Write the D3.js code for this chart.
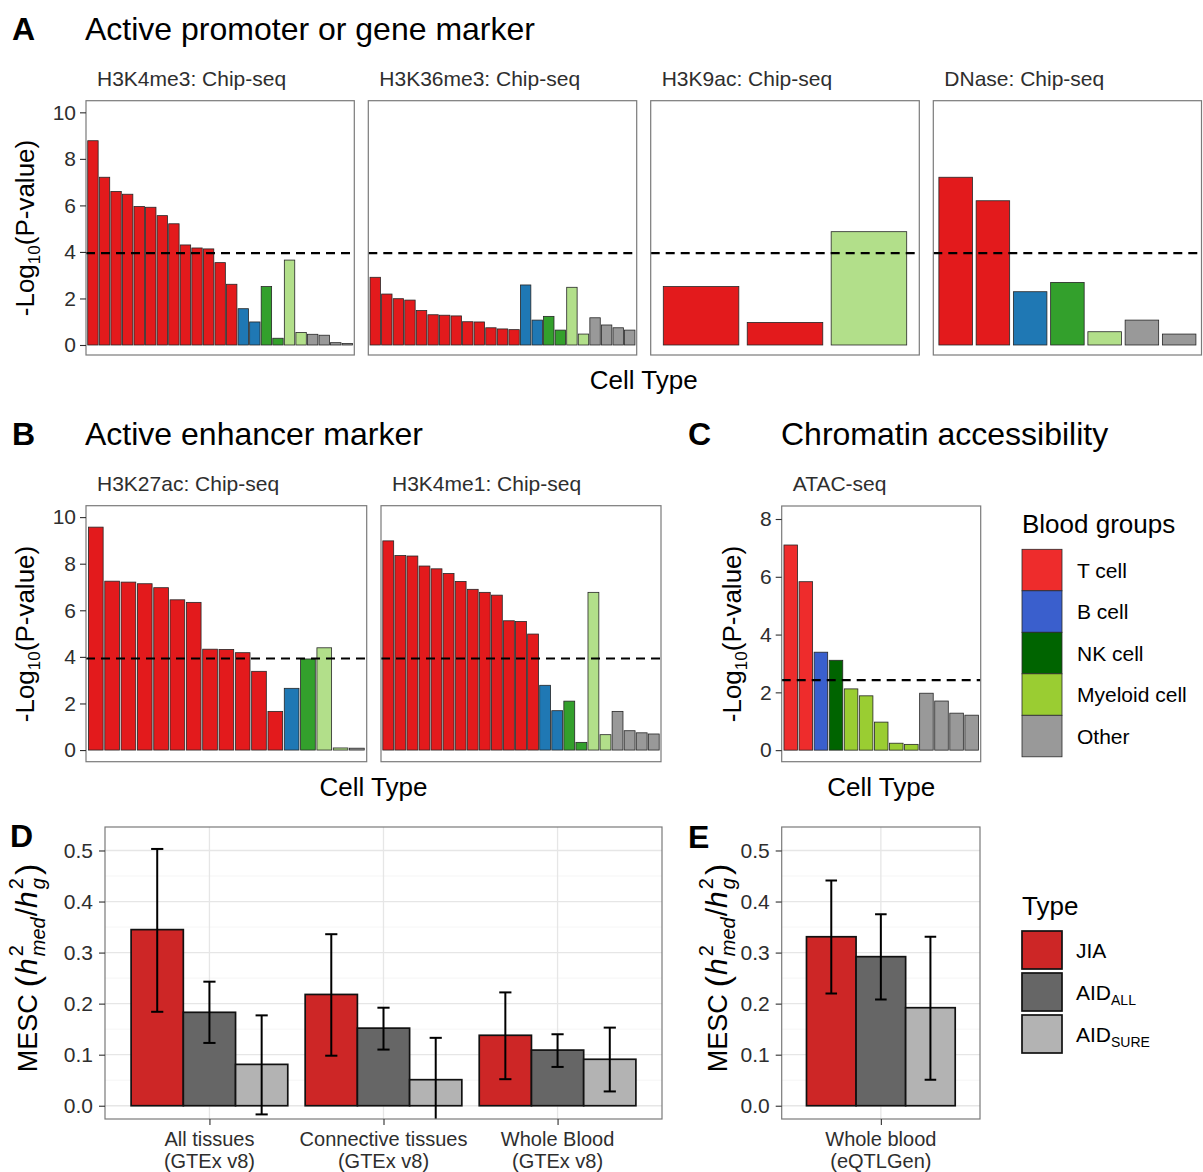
<!DOCTYPE html>
<html><head><meta charset="utf-8">
<script src="https://cdn.jsdelivr.net/npm/d3@7"></script>
<style>
body{margin:0;background:#fff}
svg{display:block}
text{font-family:"Liberation Sans", Arial, Helvetica, sans-serif}
</style>
</head><body>
<svg id="fig" width="1203" height="1172"></svg>
<script>
// ---------------- DATA ----------------
// Blood groups: T = T cell, B = B cell, NK = NK cell, M = Myeloid cell, O = Other
const bloodGroups = ["T", "B", "NK", "M", "O"];
const bloodGroupLabels = ["T cell", "B cell", "NK cell", "Myeloid cell", "Other"];

// Panel A
const h3k4me3Values = [8.78, 7.21, 6.60, 6.48, 5.95, 5.92, 5.56, 5.21, 4.30, 4.17, 4.13, 3.54, 2.61, 1.56, 0.99, 2.51, 0.29, 3.65, 0.54, 0.46, 0.42, 0.10, 0.06];
const h3k4me3Groups = ["T","T","T","T","T","T","T","T","T","T","T","T","T","B","B","NK","NK","M","M","O","O","O","O"];
const h3k36me3Values = [2.91, 2.19, 1.99, 1.93, 1.48, 1.30, 1.28, 1.25, 1.00, 0.99, 0.74, 0.69, 0.66, 2.58, 1.07, 1.23, 0.64, 2.48, 0.47, 1.17, 0.86, 0.74, 0.64];
const h3k36me3Groups = ["T","T","T","T","T","T","T","T","T","T","T","T","T","B","B","NK","NK","M","M","O","O","O","O"];
const h3k9acValues = [2.51, 0.97, 4.87];
const h3k9acGroups = ["T","T","M"];
const dnaseValues = [7.21, 6.20, 2.29, 2.69, 0.57, 1.07, 0.47];
const dnaseGroups = ["T","T","B","NK","M","O","O"];

// Panel B
const h3k27acValues = [9.57, 7.25, 7.21, 7.14, 6.97, 6.45, 6.34, 4.33, 4.32, 4.18, 3.38, 1.66, 2.65, 3.91, 4.39, 0.09, 0.08];
const h3k27acGroups = ["T","T","T","T","T","T","T","T","T","T","T","T","B","NK","M","M","O"];
const h3k4me1Values = [8.98, 8.35, 8.33, 7.90, 7.78, 7.58, 7.24, 6.90, 6.77, 6.65, 5.55, 5.52, 4.98, 2.78, 1.69, 2.10, 0.33, 6.77, 0.66, 1.66, 0.83, 0.74, 0.69];
const h3k4me1Groups = ["T","T","T","T","T","T","T","T","T","T","T","T","T","B","B","NK","NK","M","M","O","O","O","O"];

// Panel C
const atacValues = [7.10, 5.83, 3.39, 3.11, 2.12, 1.88, 0.97, 0.24, 0.20, 1.97, 1.70, 1.28, 1.21];
const atacGroups = ["T","T","B","NK","M","M","M","M","M","O","O","O","O"];

// significance thresholds (-log10 P)
const thresholdA = 3.95;
const thresholdB = 3.93;
const thresholdC = 2.42;

const tickValuesAB = [0, 2, 4, 6, 8, 10];
const tickValuesC = [0, 2, 4, 6, 8];

// Panels D / E
const mescCategoriesD = [["All tissues", "(GTEx v8)"], ["Connective tissues", "(GTEx v8)"], ["Whole Blood", "(GTEx v8)"]];
const mescCategoriesE = [["Whole blood", "(eQTLGen)"]];
const mescTypes = ["JIA", "AID_ALL", "AID_SURE"];
const jiaD = [0.345, 0.218, 0.138];
const jiaLowD = [0.184, 0.098, 0.052];
const jiaHighD = [0.503, 0.336, 0.222];
const aidAllD = [0.183, 0.152, 0.109];
const aidAllLowD = [0.123, 0.110, 0.076];
const aidAllHighD = [0.243, 0.192, 0.140];
const aidSureD = [0.081, 0.051, 0.091];
const aidSureLowD = [-0.017, -0.040, 0.028];
const aidSureHighD = [0.177, 0.133, 0.153];
const jiaE = [0.331];
const jiaLowE = [0.220];
const jiaHighE = [0.441];
const aidAllE = [0.292];
const aidAllLowE = [0.208];
const aidAllHighE = [0.375];
const aidSureE = [0.192];
const aidSureLowE = [0.051];
const aidSureHighE = [0.331];
const mescTicks = [0.0, 0.1, 0.2, 0.3, 0.4, 0.5];
const mescMinorTicks = [0.05, 0.15, 0.25, 0.35, 0.45];

// ---------------- STYLE ----------------
const paletteAB = {T: "#E31A1C", B: "#1F78B4", NK: "#33A02C", M: "#B2DF8A", O: "#999999"};
const paletteC = {T: "#EE2C2C", B: "#3A5FCD", NK: "#006400", M: "#9ACD32", O: "#999999"};
const typeColors = {JIA: "#CD2626", AID_ALL: "#666666", AID_SURE: "#B3B3B3"};
const TXT = "#2e2e2e";

const svg = d3.select("#fig");

function txt(x, y, s, size, opts = {}) {
  const t = svg.append("text").attr("x", x).attr("y", y).attr("font-size", size)
    .attr("fill", opts.fill || "#000").text(s);
  if (opts.anchor) t.attr("text-anchor", opts.anchor);
  if (opts.bold) t.attr("font-weight", "bold");
  return t;
}

// y-label "-Log10(P-value)"
function logLabel(xBase, yCenter) {
  const t = svg.append("text").attr("transform", `translate(${xBase},${yCenter}) rotate(-90)`)
    .attr("text-anchor", "middle").attr("font-size", 26).attr("fill", "#000");
  t.append("tspan").text("-Log");
  t.append("tspan").attr("font-size", 17).attr("dy", 6).text("10");
  t.append("tspan").attr("dy", -6).text("(P-value)");
}

// faceted bar panel
function barFacet(cfg) {
  const {left, right, top, bottom, ydom, values, groups, palette, thresh, strip, yTicks} = cfg;
  const n = values.length;
  const x = d3.scaleLinear().domain([0.4, n + 0.6]).range([left, right]);
  const y = d3.scaleLinear().domain(ydom).range([bottom, top]);
  const g = svg.append("g");
  g.selectAll("rect.bar").data(values).join("rect").attr("class", "bar")
    .attr("x", (d, i) => x(i + 1 - 0.45))
    .attr("width", (d, i) => x(i + 1 + 0.45) - x(i + 1 - 0.45))
    .attr("y", d => y(d)).attr("height", d => y(0) - y(d))
    .attr("fill", (d, i) => palette[groups[i]])
    .attr("stroke", "#262626").attr("stroke-width", 0.8);
  g.append("line").attr("x1", left).attr("x2", right)
    .attr("y1", y(thresh)).attr("y2", y(thresh))
    .attr("stroke", "#000").attr("stroke-width", 2.2).attr("stroke-dasharray", "9,6");
  g.append("rect").attr("x", left).attr("y", top).attr("width", right - left).attr("height", bottom - top)
    .attr("fill", "none").attr("stroke", "#7a7a7a").attr("stroke-width", 1.2);
  txt(left + 11, top - 15, strip, 21, {fill: TXT});
  if (yTicks) {
    const ag = g.append("g").attr("transform", `translate(${left},0)`)
      .call(d3.axisLeft(y).tickValues(yTicks).tickSize(6).tickPadding(4).tickFormat(d3.format("d")));
    ag.select(".domain").remove();
    ag.selectAll("text").attr("font-size", 21).attr("fill", TXT).attr("font-family", null);
    ag.selectAll("line").attr("stroke", TXT).attr("stroke-width", 1.1);
  }
}

// ---------------- PANEL A ----------------
txt(12, 40, "A", 32, {bold: true});
txt(85, 40, "Active promoter or gene marker", 32);
const yA = [-0.43, 10.5];
barFacet({left: 86, right: 354.3, top: 100.7, bottom: 355, ydom: yA, values: h3k4me3Values, groups: h3k4me3Groups, palette: paletteAB, thresh: thresholdA, strip: "H3K4me3: Chip-seq", yTicks: tickValuesAB});
barFacet({left: 368.3, right: 636.7, top: 100.7, bottom: 355, ydom: yA, values: h3k36me3Values, groups: h3k36me3Groups, palette: paletteAB, thresh: thresholdA, strip: "H3K36me3: Chip-seq"});
barFacet({left: 650.7, right: 919.3, top: 100.7, bottom: 355, ydom: yA, values: h3k9acValues, groups: h3k9acGroups, palette: paletteAB, thresh: thresholdA, strip: "H3K9ac: Chip-seq"});
barFacet({left: 933.3, right: 1201.5, top: 100.7, bottom: 355, ydom: yA, values: dnaseValues, groups: dnaseGroups, palette: paletteAB, thresh: thresholdA, strip: "DNase: Chip-seq"});
logLabel(34, 228);
txt(643.7, 389, "Cell Type", 26, {anchor: "middle"});

// ---------------- PANEL B ----------------
txt(12, 445, "B", 32, {bold: true});
txt(85, 445, "Active enhancer marker", 32);
const yB = [-0.5, 10.49];
barFacet({left: 86, right: 366.7, top: 505.7, bottom: 761.7, ydom: yB, values: h3k27acValues, groups: h3k27acGroups, palette: paletteAB, thresh: thresholdB, strip: "H3K27ac: Chip-seq", yTicks: tickValuesAB});
barFacet({left: 381, right: 661, top: 505.7, bottom: 761.7, ydom: yB, values: h3k4me1Values, groups: h3k4me1Groups, palette: paletteAB, thresh: thresholdB, strip: "H3K4me1: Chip-seq"});
logLabel(34, 634);
txt(373.5, 796, "Cell Type", 26, {anchor: "middle"});

// ---------------- PANEL C ----------------
txt(688, 445, "C", 32, {bold: true});
txt(781, 445, "Chromatin accessibility", 32);
barFacet({left: 781.7, right: 980.7, top: 506, bottom: 761.7, ydom: [-0.4, 8.45], values: atacValues, groups: atacGroups, palette: paletteC, thresh: thresholdC, strip: "ATAC-seq", yTicks: tickValuesC});
logLabel(741, 634);
txt(881.2, 796, "Cell Type", 26, {anchor: "middle"});

// Blood groups legend
txt(1022, 533, "Blood groups", 26);
const keyH = 41.5;
const lg = svg.append("g");
lg.selectAll("rect").data(bloodGroups).join("rect")
  .attr("x", 1022).attr("y", (d, i) => 549.3 + i * keyH)
  .attr("width", 40).attr("height", keyH)
  .attr("fill", d => paletteC[d]).attr("stroke", "#2a2a2a").attr("stroke-width", 0.8);
lg.selectAll("text").data(bloodGroupLabels).join("text")
  .attr("x", 1077).attr("y", (d, i) => 549.3 + i * keyH + keyH / 2 + 7.5)
  .attr("font-size", 21).attr("fill", "#000").text(d => d);

// ---------------- PANELS D / E ----------------
function mescLabel(xBase, yCenter) {
  const t = svg.append("text").attr("transform", `translate(${xBase},${yCenter}) rotate(-90)`)
    .attr("text-anchor", "middle").attr("font-size", 27).attr("fill", "#000");
  t.append("tspan").text("MESC");
  t.append("tspan").attr("font-size", 34).attr("dy", 2).attr("dx", 7).text("(");
  t.append("tspan").attr("font-size", 30).attr("font-style", "italic").attr("dy", -2).attr("dx", 1).text("h");
  t.append("tspan").attr("font-size", 20).attr("dy", -14).attr("dx", 2).text("2");
  t.append("tspan").attr("font-size", 20).attr("font-style", "italic").attr("dx", -11).attr("dy", 22).text("med");
  t.append("tspan").attr("font-size", 30).attr("dy", -8).attr("dx", 1).text("/");
  t.append("tspan").attr("font-size", 30).attr("font-style", "italic").text("h");
  t.append("tspan").attr("font-size", 20).attr("dy", -14).attr("dx", 2).text("2");
  t.append("tspan").attr("font-size", 20).attr("font-style", "italic").attr("dx", -11).attr("dy", 22).text("g");
  t.append("tspan").attr("font-size", 34).attr("dy", -6).attr("dx", 3).text(")");
}

function mescPanel(cfg) {
  const {id, left, right, top, bottom, cats, series} = cfg;
  const n = cats.length;
  const x = d3.scaleLinear().domain([0.4, n + 0.6]).range([left, right]);
  const y = d3.scaleLinear().domain([-0.026, 0.546]).range([bottom, top]);
  const g = svg.append("g");
  const clipId = "clip" + id;
  svg.append("defs").append("clipPath").attr("id", clipId).append("rect")
    .attr("x", left).attr("y", top).attr("width", right - left).attr("height", bottom - top);
  const inner = g.append("g").attr("clip-path", `url(#${clipId})`);
  // grid
  inner.selectAll("line.minor").data(mescMinorTicks).join("line").attr("class", "minor")
    .attr("x1", left).attr("x2", right).attr("y1", d => y(d)).attr("y2", d => y(d))
    .attr("stroke", "#F2F2F2").attr("stroke-width", 0.8);
  inner.selectAll("line.major").data(mescTicks).join("line").attr("class", "major")
    .attr("x1", left).attr("x2", right).attr("y1", d => y(d)).attr("y2", d => y(d))
    .attr("stroke", "#E6E6E6").attr("stroke-width", 1.3);
  inner.selectAll("line.vmajor").data(cats).join("line").attr("class", "vmajor")
    .attr("x1", (d, i) => x(i + 1)).attr("x2", (d, i) => x(i + 1)).attr("y1", top).attr("y2", bottom)
    .attr("stroke", "#E6E6E6").attr("stroke-width", 1.3);
  const w = 0.9 / series.length;
  series.forEach((s, k) => {
    const x0 = i => x(i + 1 - 0.45 + k * w);
    const x1 = i => x(i + 1 - 0.45 + (k + 1) * w);
    inner.selectAll("rect.b" + k).data(s.values).join("rect").attr("class", "b" + k)
      .attr("x", (d, i) => x0(i)).attr("width", (d, i) => x1(i) - x0(i))
      .attr("y", d => y(d)).attr("height", d => y(0) - y(d))
      .attr("fill", typeColors[s.type]).attr("stroke", "#111").attr("stroke-width", 1.7);
  });
  series.forEach((s, k) => {
    const xc = i => x(i + 1 - 0.45 + (k + 0.5) * w);
    const cap = x(1.035) - x(0.965);
    s.values.forEach((v, i) => {
      inner.append("line").attr("x1", xc(i)).attr("x2", xc(i)).attr("y1", y(s.low[i])).attr("y2", y(s.high[i]))
        .attr("stroke", "#000").attr("stroke-width", 2);
      [s.low[i], s.high[i]].forEach(e => {
        inner.append("line").attr("x1", xc(i) - cap / 2).attr("x2", xc(i) + cap / 2).attr("y1", y(e)).attr("y2", y(e))
          .attr("stroke", "#000").attr("stroke-width", 2);
      });
    });
  });
  g.append("rect").attr("x", left).attr("y", top).attr("width", right - left).attr("height", bottom - top)
    .attr("fill", "none").attr("stroke", "#7a7a7a").attr("stroke-width", 1.2);
  const ag = g.append("g").attr("transform", `translate(${left},0)`)
    .call(d3.axisLeft(y).tickValues(mescTicks).tickSize(6).tickPadding(6).tickFormat(d3.format(".1f")));
  ag.select(".domain").remove();
  ag.selectAll("text").attr("font-size", 21).attr("fill", TXT).attr("font-family", null);
  ag.selectAll("line").attr("stroke", TXT).attr("stroke-width", 1.1);
  const bg = g.append("g").attr("transform", `translate(0,${bottom})`)
    .call(d3.axisBottom(x).tickValues(d3.range(1, n + 1)).tickSize(6).tickFormat(""));
  bg.select(".domain").remove();
  bg.selectAll("line").attr("stroke", TXT).attr("stroke-width", 1.1);
  cats.forEach((c, i) => {
    txt(x(i + 1), bottom + 27, c[0], 20, {anchor: "middle", fill: TXT});
    txt(x(i + 1), bottom + 48.5, c[1], 20, {anchor: "middle", fill: TXT});
  });
}

txt(10, 847, "D", 32, {bold: true});
mescPanel({id: "D", left: 105, right: 662, top: 827, bottom: 1119, cats: mescCategoriesD, series: [
  {type: "JIA", values: jiaD, low: jiaLowD, high: jiaHighD},
  {type: "AID_ALL", values: aidAllD, low: aidAllLowD, high: aidAllHighD},
  {type: "AID_SURE", values: aidSureD, low: aidSureLowD, high: aidSureHighD}]});
mescLabel(37, 968);

txt(688, 848, "E", 32, {bold: true});
mescPanel({id: "E", left: 781.7, right: 980, top: 827, bottom: 1119, cats: mescCategoriesE, series: [
  {type: "JIA", values: jiaE, low: jiaLowE, high: jiaHighE},
  {type: "AID_ALL", values: aidAllE, low: aidAllLowE, high: aidAllHighE},
  {type: "AID_SURE", values: aidSureE, low: aidSureLowE, high: aidSureHighE}]});
mescLabel(727, 968);

// Type legend
txt(1022, 915, "Type", 26);
const tl = svg.append("g");
tl.selectAll("rect").data(mescTypes).join("rect")
  .attr("x", 1022).attr("y", (d, i) => 931 + i * 42).attr("width", 40).attr("height", 38)
  .attr("fill", d => typeColors[d]).attr("stroke", "#111").attr("stroke-width", 1.7);
mescTypes.forEach((t, i) => {
  const el = svg.append("text").attr("x", 1076).attr("y", 931 + i * 42 + 19 + 7.5).attr("font-size", 21).attr("fill", "#000");
  const parts = t.split("_");
  el.append("tspan").text(parts[0]);
  if (parts[1]) el.append("tspan").attr("font-size", 14).attr("dy", 5).text(parts[1]);
});
</script>
</body></html>
